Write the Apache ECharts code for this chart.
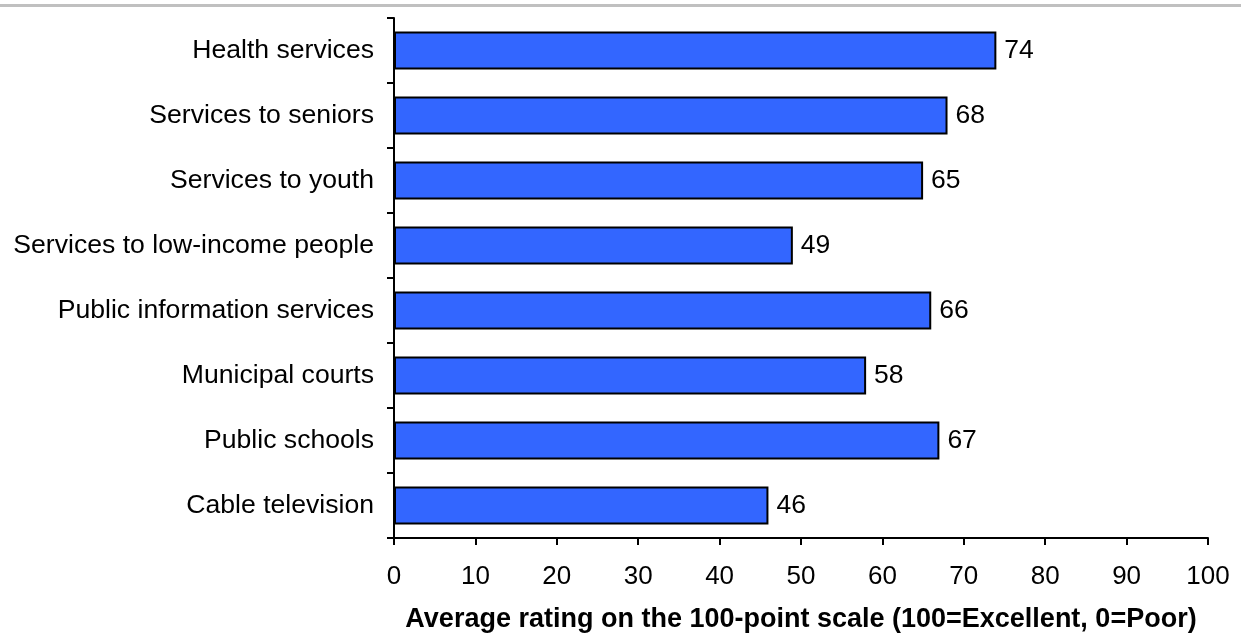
<!DOCTYPE html>
<html>
<head>
<meta charset="utf-8">
<script src="https://cdn.jsdelivr.net/npm/echarts@6/dist/echarts.min.js"></script>
<style>
  html, body { margin: 0; padding: 0; background: #ffffff; }
  #topline { position: absolute; left: 0; top: 4px; width: 1241px; height: 3px; background: #c0c0c0; }
  #chart { width: 1241px; height: 639px; }
</style>
</head>
<body>
<div id="topline"></div>
<div id="chart"></div>
<script>
// Service ratings, listed top to bottom
const categories = [
  'Health services',
  'Services to seniors',
  'Services to youth',
  'Services to low-income people',
  'Public information services',
  'Municipal courts',
  'Public schools',
  'Cable television'
];
const ratings = [74, 68, 65, 49, 66, 58, 67, 46];
const axisTitle = 'Average rating on the 100-point scale (100=Excellent, 0=Poor)';

const chart = echarts.init(document.getElementById('chart'), null, { renderer: 'canvas' });
const font = 'Arial, "Liberation Sans", sans-serif';

chart.setOption({
  animation: false,
  backgroundColor: 'transparent',
  grid: { left: 394, right: 33, top: 18, bottom: 101, containLabel: false },
  xAxis: {
    type: 'value',
    min: 0,
    max: 100,
    interval: 10,
    name: axisTitle,
    nameLocation: 'middle',
    nameGap: 68,
    nameTextStyle: { fontFamily: font, fontSize: 27, fontWeight: 'bold', color: '#000' },
    axisLine: { show: true, lineStyle: { color: '#000', width: 2 } },
    axisTick: { show: true, inside: false, length: 7, lineStyle: { color: '#000', width: 2 } },
    axisLabel: { fontFamily: font, fontSize: 26, color: '#000', margin: 26 },
    splitLine: { show: false }
  },
  yAxis: {
    type: 'category',
    inverse: true,
    data: categories,
    axisLine: { show: true, lineStyle: { color: '#000', width: 2 } },
    axisTick: { show: true, inside: false, length: 7, alignWithLabel: false, lineStyle: { color: '#000', width: 2 } },
    axisLabel: { fontFamily: font, fontSize: 26.6, color: '#000', margin: 20 },
    splitLine: { show: false }
  },
  series: [{
    type: 'bar',
    data: ratings,
    barWidth: 38,
    itemStyle: { color: '#3366ff', borderColor: '#000', borderWidth: 2 },
    label: {
      show: true,
      position: 'right',
      distance: 8,
      fontFamily: font,
      fontSize: 26.5,
      color: '#000'
    }
  }]
});
</script>
</body>
</html>
